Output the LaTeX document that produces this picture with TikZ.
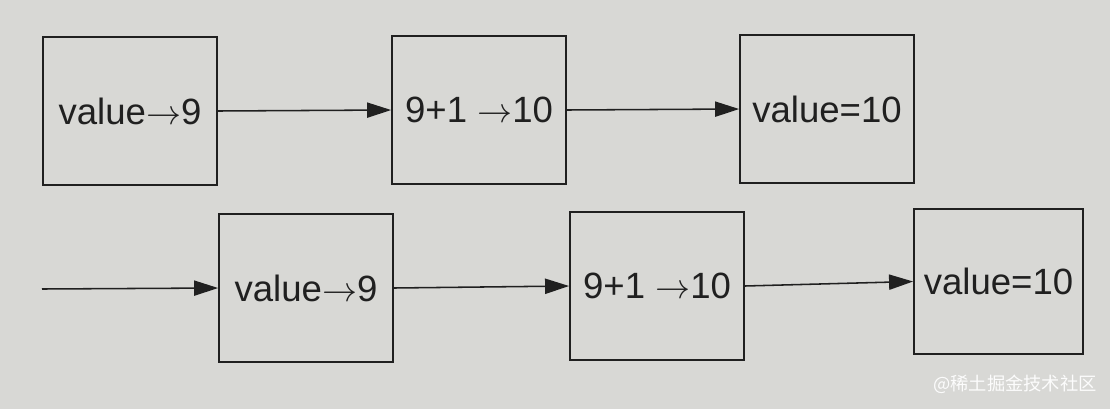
\documentclass[tikz,border=0pt]{standalone}
\usepackage{fontspec}
\setmainfont{Liberation Sans}
\newfontfamily\cjkfont{Noto Sans CJK SC}
\usetikzlibrary{positioning}
\usetikzlibrary{arrows.meta}
\definecolor{paper}{RGB}{216,216,213}
\definecolor{ink}{RGB}{32,32,32}

\begin{document}
\begin{tikzpicture}[x=0.025cm, y=-0.025cm,
    cell/.style={draw=ink, line width=1.3pt, minimum width=4.35cm, minimum height=3.7cm,
        inner sep=0pt, text=ink, font=\fontsize{26}{30}\selectfont},
    link/.style={draw=ink, line width=1.1pt, -{Triangle[length=6mm,width=3.8mm]}}]
    % Background
    \fill[paper] (0,0) rectangle (1110,409);

    % Top row
    \node[cell] (a1) at (130,111) {value$\rightarrow$9};
    \node[cell] (b1) at (479,110) {9+1 $\rightarrow$10};
    \node[cell] (c1) at (827,109) {value=10};

    % Bottom row
    \coordinate (start) at (42,289);
    \node[cell] (a2) at (306,288) {value$\rightarrow$9};
    \node[cell] (b2) at (657,286) {9+1 $\rightarrow$10};
    \node[cell, minimum width=4.225cm, minimum height=3.625cm] (c2) at (998.5,281.5) {value=10};

    % Arrows
    \draw[link] (a1.east) -- (b1.west);
    \draw[link] (b1.east) -- (c1.west);
    \draw[link] (start) -- (a2.west);
    \draw[link] (a2.east) -- (b2.west);
    \draw[link] (b2.east) -- (c2.west);

    % Watermark
    \node[text=white!92!paper, font=\cjkfont\fontsize{13}{15}\selectfont] (mark) at (1015,384) {@稀土掘金技术社区};
\end{tikzpicture}
\end{document}
